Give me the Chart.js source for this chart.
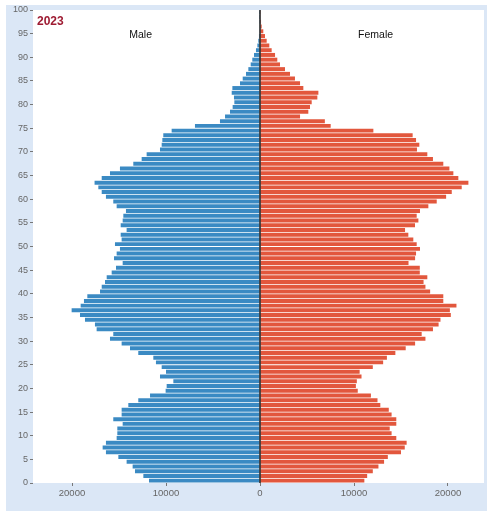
<!DOCTYPE html>
<html>
<head>
<meta charset="utf-8">
<script src="https://cdn.jsdelivr.net/npm/chart.js@4.4.1/dist/chart.umd.min.js"></script>
<style>
  html, body { margin: 0; padding: 0; background: #ffffff; }
  #wrap { width: 489px; height: 516px; position: relative; }
</style>
</head>
<body>
<div id="wrap"><canvas id="pyramid"></canvas></div>
<script>
// Ages 0..99 (one bar per year of age)
const ages = Array.from({ length: 100 }, (_, i) => i);

// Male population by age (drawn to the left)
const malePop = [
  11810, 12410, 13300, 13550, 14190, 15070, 16390, 16740, 16390, 15250,
  15180, 15180, 14610, 15610, 14720, 14720, 14010, 12950, 11700, 10040,
  9930, 9220, 10640, 10000, 10460, 11070, 11350, 12950, 13830, 14720,
  15960, 15610, 17380, 17560, 18620, 19150, 20040, 19080, 18730, 18370,
  17020, 16840, 16490, 16310, 15780, 15320, 14610, 15530, 15250, 14900,
  15430, 14720, 14820, 14190, 14820, 14610, 14540, 14260, 15250, 15610,
  16390, 16840, 17200, 17600, 16840, 15960, 14900, 13480, 12590, 12060,
  10640, 10460, 10390, 10290, 9400, 6920, 4260, 3720, 3190, 2910,
  2730, 2770, 3010, 2940, 2130, 1840, 1490, 1240, 990, 820,
  640, 430, 280, 180, 110, 70, 40, 20, 10, 5
];

// Female population by age (drawn to the right)
const femalePop = [
  11100, 11400, 12000, 12600, 13200, 13600, 15000, 15400, 15600, 14500,
  14000, 13800, 14500, 14500, 14000, 13700, 12800, 12500, 11800, 10400,
  10200, 10300, 10800, 10600, 12000, 13100, 13500, 14400, 15500, 16500,
  17600, 17200, 18400, 19000, 19200, 20300, 20200, 20900, 19500, 19500,
  18100, 17600, 17400, 17800, 17000, 17000, 15800, 16500, 16600, 17020,
  16670, 16310, 15780, 15430, 16490, 16850, 16670, 17020, 17910, 18800,
  19800, 20400, 21460, 22170, 21100, 20570, 20150, 19500, 18400, 17800,
  16700, 16950, 16600, 16240, 12060, 7520, 6900, 4260, 5140, 5320,
  5500, 6100, 6210, 4610, 4260, 3720, 3190, 2660, 2130, 1840,
  1600, 1240, 990, 710, 530, 350, 180, 110, 60, 30
];

const yTicks = [0, 5, 10, 15, 20, 25, 30, 35, 40, 45, 50, 55, 60, 65, 70, 75, 80, 85, 90, 95, 100];
const xTicks = [-20000, -10000, 0, 10000, 20000];

const yearLabel = '2023';
const maleLabel = 'Male';
const femaleLabel = 'Female';

const FONT = '"Liberation Sans", Arial, sans-serif';

// each bar covers the age interval [age, age+1)
const maleData = ages.map((a, i) => ({ x: -malePop[i], y: a + 0.5 }));
const femaleData = ages.map((a, i) => ({ x: femalePop[i], y: a + 0.5 }));

// Fondo: panel azul claro y area del grafico en blanco
const backgroundPlugin = {
  id: 'panelBackground',
  beforeDraw(chart) {
    const { ctx, chartArea } = chart;
    ctx.save();
    ctx.fillStyle = '#ffffff';
    ctx.fillRect(0, 0, chart.width, chart.height);
    ctx.fillStyle = '#dbe7f6';
    ctx.fillRect(6, 5, 481, 506);
    ctx.fillStyle = '#ffffff';
    ctx.fillRect(chartArea.left, chartArea.top,
      chartArea.right - chartArea.left, chartArea.bottom - chartArea.top);
    ctx.restore();
  }
};

// Linea central y textos
const overlayPlugin = {
  id: 'overlay',
  afterDatasetsDraw(chart) {
    const { ctx, chartArea, scales } = chart;
    const x0 = scales.x.getPixelForValue(0);
    ctx.save();
    ctx.strokeStyle = '#1a1a1a';
    ctx.lineWidth = 1.5;
    ctx.beginPath();
    ctx.moveTo(x0, chartArea.top);
    ctx.lineTo(x0, chartArea.bottom);
    ctx.stroke();

    ctx.fillStyle = '#111111';
    ctx.font = '10.5px ' + FONT;
    ctx.textAlign = 'center';
    ctx.textBaseline = 'middle';
    ctx.fillText(maleLabel, scales.x.getPixelForValue(-12700), scales.y.getPixelForValue(94.7));
    ctx.fillText(femaleLabel, scales.x.getPixelForValue(12300), scales.y.getPixelForValue(94.7));

    ctx.fillStyle = '#9e1b32';
    ctx.font = 'bold 12px ' + FONT;
    ctx.textAlign = 'left';
    ctx.fillText(yearLabel, chartArea.left + 4, chartArea.top + 12);
    ctx.restore();
  }
};

const ctx = document.getElementById('pyramid').getContext('2d');
new Chart(ctx, {
  type: 'bar',
  data: {
    datasets: [{
      label: maleLabel,
      data: maleData,
      backgroundColor: '#3b8ac3',
      barPercentage: 0.84,
      categoryPercentage: 1.0
    }, {
      label: femaleLabel,
      data: femaleData,
      backgroundColor: '#e2573d',
      barPercentage: 0.84,
      categoryPercentage: 1.0
    }]
  },
  options: {
    indexAxis: 'y',
    responsive: true,
    maintainAspectRatio: false,
    animation: false,
    layout: { padding: { left: 0, right: 5, top: 10, bottom: 14.6 } },
    plugins: {
      legend: { display: false },
      tooltip: { enabled: false }
    },
    scales: {
      y: {
        type: 'linear',
        stacked: true,
        offset: false,
        min: 0,
        max: 100,
        afterBuildTicks: scale => { scale.ticks = yTicks.map(v => ({ value: v })); },
        afterFit: scale => { scale.width = 33; },
        grid: { drawOnChartArea: false, drawTicks: true, tickLength: 3, color: '#777777', offset: false },
        border: { display: false },
        ticks: {
          padding: 2,
          color: '#666666',
          font: { family: FONT, size: 9 },
          autoSkip: false
        }
      },
      x: {
        type: 'linear',
        stacked: true,
        min: -24150,
        max: 23830,
        afterBuildTicks: scale => { scale.ticks = xTicks.map(v => ({ value: v })); },
        grid: { drawOnChartArea: false, drawTicks: true, tickLength: 3, color: '#777777' },
        border: { display: false },
        ticks: {
          padding: 2,
          color: '#666666',
          font: { family: FONT, size: 9.5 },
          maxRotation: 0,
          autoSkip: false,
          callback: v => String(Math.abs(v))
        }
      }
    }
  },
  plugins: [backgroundPlugin, overlayPlugin]
});
</script>
</body>
</html>
